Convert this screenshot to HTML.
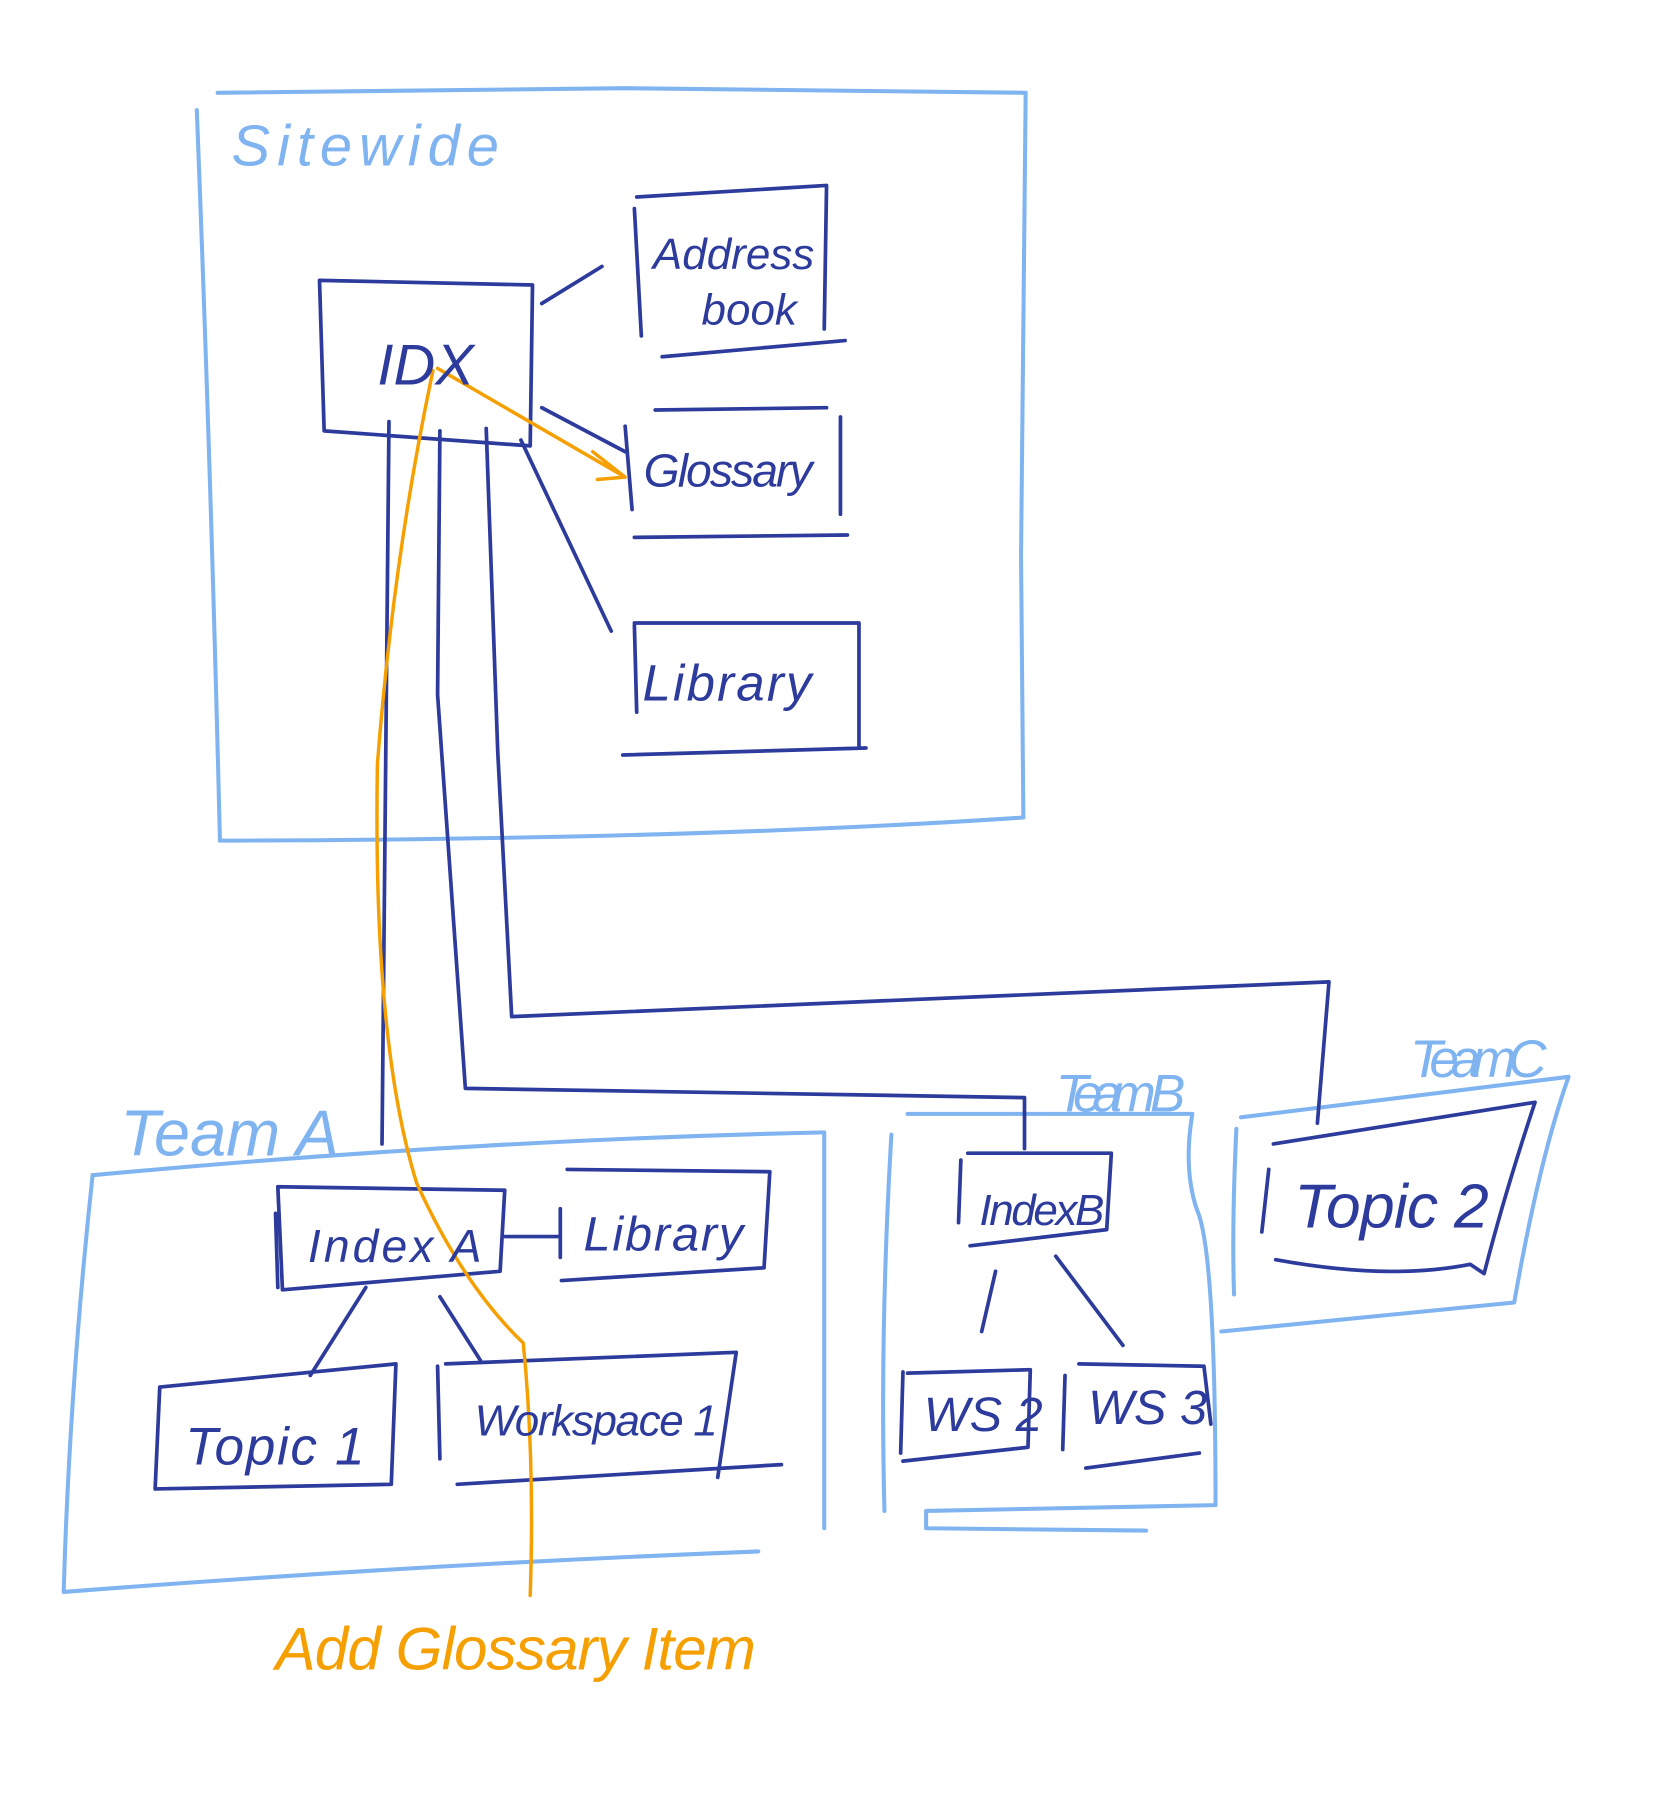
<!DOCTYPE html>
<html><head><meta charset="utf-8"><style>
html,body{margin:0;padding:0;background:#fff;}
svg{display:block;}
text{font-family:"Liberation Sans",sans-serif;}
</style></head><body>
<svg width="1667" height="1804" viewBox="0 0 1440 1558" xmlns="http://www.w3.org/2000/svg">
<g fill="none" stroke-linecap="round" stroke-linejoin="round">
<g stroke="#80b4f0" stroke-width="3.5">
<path d="M188 80 L540 76 L886 80 Q884 300 882 480 L884 706 Q600 725 190 726 Q182 400 170 95"/>
<path d="M80 1015 Q400 985 712 978 L712 1320"/>
<path d="M80 1015 Q60 1200 55 1375 Q350 1352 655 1340"/>
<path d="M784 962 L1030 962 Q1022 1010 1034 1045 Q1050 1080 1050 1300 L800 1305 L800 1320 L990 1322"/>
<path d="M770 980 Q760 1150 764 1305"/>
<path d="M1072 965 L1355 930 Q1330 1000 1308 1125 L1055 1150"/>
<path d="M1068 975 Q1064 1060 1066 1118"/>
</g>
<g stroke="#2c3b9c" stroke-width="3.2">
<path d="M276 242 L460 246 L458 385 L280 372 Z"/>
<path d="M548 180 L554 290 M550 170 L714 160 L712 284 M572 308 L730 294"/>
<path d="M468 262 L520 230"/>
<path d="M540 368 L546 440 M566 354 L714 352 M726 360 L726 444 M548 464 L732 462"/>
<path d="M468 352 L540 390"/>
<path d="M548 540 L550 615 M548 538 L742 538 L742 645 M538 652 L748 646"/>
<path d="M450 380 L528 545"/>
<path d="M336 364 L330 988"/>
<path d="M380 372 L378 600 L402 940 L885 948 L885 992"/>
<path d="M420 370 L430 650 L442 878 L1148 848 L1138 970"/>
<path d="M240 1025 L436 1028 L432 1098 L244 1114 Z M238 1048 L240 1112"/>
<path d="M436 1068 L484 1068 M484 1044 L484 1086 M490 1010 L665 1012 L660 1095 L485 1106"/>
<path d="M316 1112 L268 1188 M380 1120 L415 1175"/>
<path d="M138 1198 L342 1178 L338 1282 L134 1286 Z"/>
<path d="M378 1180 L380 1260 M385 1178 L636 1168 L620 1276 M395 1282 L675 1265"/>
<path d="M836 996 L960 996 L956 1062 L838 1076 M830 1002 L828 1056"/>
<path d="M860 1098 L848 1150 M912 1085 L970 1162"/>
<path d="M780 1185 L778 1255 M784 1186 L890 1183 L888 1250 L780 1262"/>
<path d="M920 1188 L918 1252 M932 1178 L1040 1180 L1046 1230 M938 1268 L1036 1255"/>
<path d="M1100 988 L1326 952 Q1300 1030 1282 1100 L1270 1092 Q1200 1106 1102 1088 M1096 1010 L1090 1064"/>
</g>
<g stroke="#f5a000" stroke-width="3">
<path d="M374 320 Q340 480 326 660 Q322 900 360 1022 Q400 1110 452 1160 Q462 1260 458 1378"/>
<path d="M378 318 L540 412 M512 390 L540 412 L516 414"/>
</g>
</g>
<g font-style="italic">
<text x="200" y="143" font-size="50" fill="#80b4f0" letter-spacing="6">Sitewide</text>
<text x="104" y="998" font-size="56" fill="#80b4f0">Team A</text>
<text x="912" y="960" font-size="46" fill="#80b4f0" textLength="112">Team B</text>
<text x="1218" y="930" font-size="46" fill="#80b4f0" textLength="118">TeamC</text>
<text x="326" y="332" font-size="50" fill="#2c3b9c">IDX</text>
<text x="564" y="232" font-size="38" fill="#2c3b9c">Address</text>
<text x="606" y="280" font-size="38" fill="#2c3b9c">book</text>
<text x="556" y="420" font-size="40" fill="#2c3b9c" textLength="146">Glossary</text>
<text x="555" y="605" font-size="44" fill="#2c3b9c" textLength="146">Library</text>
<text x="266" y="1090" font-size="40" fill="#2c3b9c" textLength="150">Index A</text>
<text x="504" y="1080" font-size="42" fill="#2c3b9c" textLength="138">Library</text>
<text x="160" y="1265" font-size="46" fill="#2c3b9c" textLength="155">Topic 1</text>
<text x="410" y="1240" font-size="38" fill="#2c3b9c" textLength="210">Workspace 1</text>
<text x="846" y="1058" font-size="38" fill="#2c3b9c" textLength="108">IndexB</text>
<text x="798" y="1236" font-size="42" fill="#2c3b9c">WS 2</text>
<text x="940" y="1230" font-size="42" fill="#2c3b9c">WS 3</text>
<text x="1118" y="1060" font-size="54" fill="#2c3b9c" textLength="168">Topic 2</text>
<text x="238" y="1442" font-size="52" fill="#f5a000" textLength="415">Add Glossary  Item</text>
</g>
</svg>
</body></html>
